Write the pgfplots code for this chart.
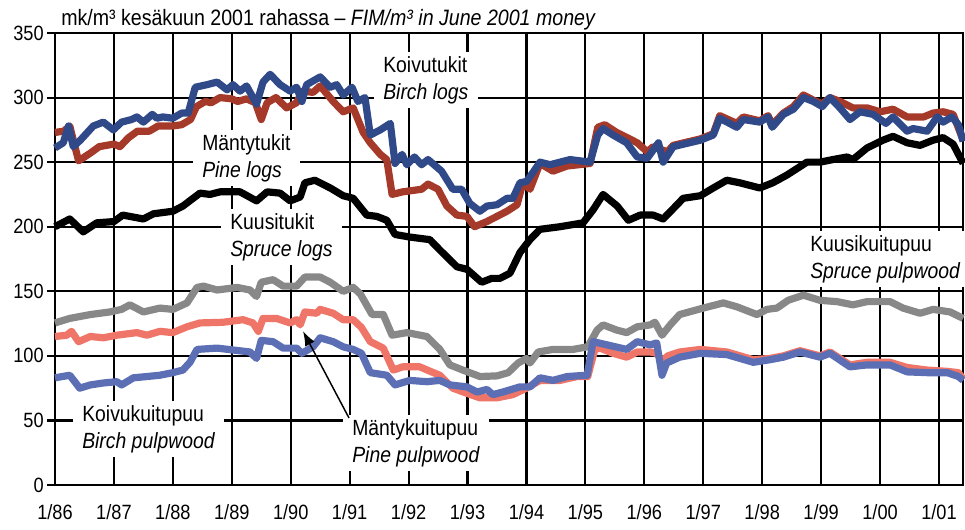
\documentclass[border=0pt]{standalone}
\usepackage{pgfplots}
\pgfplotsset{compat=1.18}
\usepackage{fontspec}
\setmainfont{Liberation Sans}[FakeStretch=0.88]
\usetikzlibrary{arrows.meta}
\definecolor{birchlog}{RGB}{47,73,137}
\definecolor{pinelog}{RGB}{166,58,42}
\definecolor{sprpulp}{RGB}{136,136,136}
\definecolor{pinepulp}{RGB}{238,117,104}
\definecolor{birchpulp}{RGB}{92,110,180}
\tikzset{lbl/.style={fill=white, align=left, inner xsep=7pt, inner ysep=3pt, anchor=west, font=\fontsize{16.5}{20.25}\selectfont}}
\begin{document}
\begin{tikzpicture}
\begin{axis}[
  scale only axis, width=681pt, height=339pt,
  xmin=1986, xmax=2001.408, ymin=0, ymax=350,
  xtick={1986,1987,1988,1989,1990,1991,1992,1993,1994,1995,1996,1997,1998,1999,2000,2001},
  xticklabels={1/86,1/87,1/88,1/89,1/90,1/91,1/92,1/93,1/94,1/95,1/96,1/97,1/98,1/99,1/00,1/01},
  ytick={0,50,100,150,200,250,300,350},
  grid=major, major grid style={black, line width=1.6pt},
  axis line style={black, line width=1.6pt},
  xtick align=inside, ytick align=outside, ytick pos=left, xtick pos=bottom,
  major tick length=6pt, tick style={black, line width=1.6pt},
  ticklabel style={font=\fontsize{15.5}{18}\selectfont},
  xticklabel style={yshift=-13.5pt, inner ysep=1pt},
  yticklabel style={xshift=1pt},
  /pgf/number format/assume math mode=true,
  scaled ticks=false, clip=false,
  every axis plot/.append style={line width=5.4pt, line join=round},
]
% Pine logs
\addplot[pinelog] coordinates {(1986.00,273)(1986.15,274)(1986.25,278)(1986.40,251)(1986.60,257)(1986.75,262)(1987.00,264)(1987.10,262)(1987.25,269)(1987.40,274)(1987.60,274)(1987.75,278)(1988.00,278)(1988.15,279)(1988.30,283)(1988.40,293)(1988.55,297)(1988.65,296)(1988.80,300)(1989.00,299)(1989.10,297)(1989.25,299)(1989.40,296)(1989.50,283)(1989.60,296)(1989.75,300)(1989.93,292)(1990.10,296)(1990.20,305)(1990.38,304)(1990.50,309)(1990.72,297)(1990.89,289)(1991.06,292)(1991.23,273)(1991.35,265)(1991.52,256)(1991.63,252)(1991.72,225)(1991.90,227)(1992.22,229)(1992.33,233)(1992.50,229)(1992.65,216)(1992.82,209)(1992.99,208)(1993.12,200)(1993.33,204)(1993.50,208)(1993.67,212)(1993.84,217)(1993.94,234)(1994.06,229)(1994.23,249)(1994.45,243)(1994.69,247)(1995.08,249)(1995.21,277)(1995.33,279)(1995.53,273)(1995.88,265)(1996.05,258)(1996.15,262)(1996.39,258)(1996.49,263)(1996.95,268)(1997.17,272)(1997.28,286)(1997.57,280)(1997.68,285)(1997.96,282)(1998.10,286)(1998.17,279)(1998.36,288)(1998.53,293)(1998.70,302)(1998.87,298)(1999.02,295)(1999.15,300)(1999.32,297)(1999.54,292)(1999.78,292)(2000.00,289)(2000.22,291)(2000.46,285)(2000.74,285)(2000.90,288)(2001.07,289)(2001.24,287)(2001.41,267)};
% Birch logs
\addplot[birchlog] coordinates {(1986.00,261)(1986.14,265)(1986.23,278)(1986.31,262)(1986.43,267)(1986.57,274)(1986.65,278)(1986.82,281)(1986.99,275)(1987.13,281)(1987.30,283)(1987.39,285)(1987.50,281)(1987.65,287)(1987.73,284)(1987.83,285)(1988.00,284)(1988.15,288)(1988.26,288)(1988.38,308)(1988.58,310)(1988.75,312)(1988.92,306)(1989.02,310)(1989.14,305)(1989.25,309)(1989.42,295)(1989.53,312)(1989.65,318)(1989.82,310)(1989.99,305)(1990.10,308)(1990.19,297)(1990.27,310)(1990.50,316)(1990.67,308)(1990.78,310)(1990.89,302)(1991.04,308)(1991.14,297)(1991.26,300)(1991.35,271)(1991.52,275)(1991.69,280)(1991.77,249)(1991.89,256)(1991.97,248)(1992.10,254)(1992.22,248)(1992.33,252)(1992.56,243)(1992.75,229)(1992.90,229)(1993.04,218)(1993.21,212)(1993.33,216)(1993.50,217)(1993.67,222)(1993.77,222)(1993.89,234)(1994.00,235)(1994.11,242)(1994.23,250)(1994.40,248)(1994.57,250)(1994.74,252)(1995.08,250)(1995.21,271)(1995.30,276)(1995.47,271)(1995.70,265)(1995.88,254)(1996.05,253)(1996.24,265)(1996.32,250)(1996.49,262)(1996.95,267)(1997.17,271)(1997.28,284)(1997.57,277)(1997.68,283)(1997.96,281)(1998.10,285)(1998.17,277)(1998.36,287)(1998.53,291)(1998.70,300)(1998.87,297)(1999.02,293)(1999.15,300)(1999.32,292)(1999.49,283)(1999.66,289)(1999.88,287)(2000.10,280)(2000.22,285)(2000.46,274)(2000.56,276)(2000.80,274)(2000.97,285)(2001.07,281)(2001.22,285)(2001.33,279)(2001.41,266)};
% Spruce logs
\addplot[black] coordinates {(1986.00,200)(1986.25,206)(1986.48,196)(1986.71,203)(1987.00,204)(1987.15,209)(1987.50,206)(1987.67,210)(1988.00,212)(1988.17,216)(1988.46,226)(1988.63,225)(1988.80,227)(1989.14,227)(1989.42,220)(1989.60,227)(1989.82,226)(1989.99,220)(1990.16,223)(1990.24,234)(1990.41,236)(1990.67,230)(1990.89,224)(1991.06,222)(1991.29,209)(1991.46,208)(1991.63,205)(1991.77,194)(1992.02,192)(1992.36,190)(1992.53,182)(1992.82,169)(1992.99,167)(1993.24,157)(1993.41,160)(1993.55,160)(1993.72,164)(1993.89,180)(1994.06,190)(1994.23,198)(1994.57,200)(1994.96,203)(1995.13,213)(1995.30,225)(1995.54,216)(1995.73,205)(1995.93,209)(1996.15,209)(1996.32,206)(1996.47,213)(1996.66,222)(1996.95,224)(1997.17,230)(1997.40,236)(1997.62,234)(1997.96,230)(1998.18,234)(1998.42,240)(1998.76,250)(1998.98,250)(1999.20,252)(1999.44,254)(1999.54,252)(1999.78,261)(2000.05,267)(2000.22,270)(2000.46,265)(2000.68,263)(2000.90,267)(2001.07,269)(2001.24,264)(2001.41,249)};
% Spruce pulpwood
\addplot[sprpulp] coordinates {(1986.00,125.5)(1986.25,129)(1986.60,132)(1986.93,134)(1987.13,136)(1987.27,139.5)(1987.50,134)(1987.78,137)(1988.00,136)(1988.24,141)(1988.41,153)(1988.52,154)(1988.75,151)(1989.09,153)(1989.31,151)(1989.42,146)(1989.50,157)(1989.70,159)(1989.87,154)(1990.10,154)(1990.24,161)(1990.50,161)(1990.67,157)(1990.89,150)(1991.06,153)(1991.18,148)(1991.38,132)(1991.57,132)(1991.72,116)(1991.97,118)(1992.31,115)(1992.53,105)(1992.70,93)(1992.92,89)(1993.21,84)(1993.50,84.5)(1993.69,87)(1993.86,94.5)(1994.00,98)(1994.06,94.5)(1994.20,103)(1994.45,105)(1994.79,105)(1995.04,107)(1995.20,120)(1995.30,124)(1995.53,120)(1995.70,118)(1995.88,122.5)(1996.10,124)(1996.18,126)(1996.30,116)(1996.44,124)(1996.60,132)(1997.00,137)(1997.34,141)(1997.57,138)(1997.91,132)(1998.08,136)(1998.25,137)(1998.44,143)(1998.70,147)(1998.98,143)(1999.27,142)(1999.54,139.5)(1999.78,142)(2000.17,142)(2000.39,137)(2000.68,133)(2000.90,136)(2001.19,134)(2001.41,129)};
% Pine pulpwood
\addplot[pinepulp] coordinates {(1986.00,115)(1986.20,116)(1986.28,119)(1986.40,111)(1986.60,115)(1986.82,114)(1987.05,116)(1987.39,118)(1987.56,116)(1987.78,119)(1988.00,118)(1988.24,122.5)(1988.46,125.5)(1988.85,126)(1989.19,128)(1989.36,125.5)(1989.45,119)(1989.53,129)(1989.76,129)(1989.99,125.5)(1990.10,128)(1990.16,124)(1990.24,134)(1990.44,133)(1990.50,136)(1990.72,133)(1990.89,128)(1991.06,128)(1991.20,122)(1991.35,111)(1991.57,106)(1991.74,89)(1991.90,91.5)(1992.19,91.5)(1992.39,87.6)(1992.53,85)(1992.75,75)(1992.99,71)(1993.21,67.5)(1993.50,67.5)(1993.77,70)(1994.00,75)(1994.23,81)(1994.57,81)(1994.86,84)(1995.04,84)(1995.16,105)(1995.25,106)(1995.47,102)(1995.70,99)(1995.88,103)(1996.10,103)(1996.21,102)(1996.30,96)(1996.40,100)(1996.60,103)(1996.95,105)(1997.40,103)(1997.85,97)(1998.13,98)(1998.36,100)(1998.64,104)(1998.98,100)(1999.15,103)(1999.49,93)(1999.78,95)(2000.17,95)(2000.46,91)(2000.80,89)(2001.14,88)(2001.33,87)(2001.41,82)};
% Birch pulpwood
\addplot[birchpulp] coordinates {(1986.00,83)(1986.25,85)(1986.42,75)(1986.60,77.5)(1986.82,79)(1987.05,80)(1987.13,77.5)(1987.33,83)(1987.56,84)(1987.78,85)(1988.00,87)(1988.17,89)(1988.29,95)(1988.41,105)(1988.75,106)(1989.31,103)(1989.42,98)(1989.50,112)(1989.70,111)(1989.87,106)(1990.10,106)(1990.19,102)(1990.38,107)(1990.50,114)(1990.72,111)(1990.89,107)(1991.06,105)(1991.20,102)(1991.35,87)(1991.63,85)(1991.77,77.5)(1992.02,81)(1992.31,80)(1992.53,81)(1992.70,77.5)(1992.99,76)(1993.16,72)(1993.33,74)(1993.43,70)(1993.60,72)(1993.89,76)(1994.06,76)(1994.23,83)(1994.45,81)(1994.69,84)(1995.03,85)(1995.13,111)(1995.37,108.5)(1995.70,105)(1995.88,111)(1996.10,108.5)(1996.21,110)(1996.30,85)(1996.38,94.5)(1996.60,99)(1996.95,102)(1997.40,101)(1997.85,95)(1998.13,97)(1998.36,99)(1998.64,103)(1998.98,99)(1999.15,102)(1999.49,91.5)(1999.78,93)(2000.17,93)(2000.46,87.6)(2000.80,87)(2001.14,87)(2001.33,84)(2001.41,81)};
% labels
\node[lbl] at (axis cs:1991.408,313.6) {Koivutukit\\\textit{Birch logs}};
\node[lbl] at (axis cs:1988.336,253.2) {Mäntytukit\\\textit{Pine logs}};
\node[lbl] at (axis cs:1988.812,192.0) {Kuusitukit\\\textit{Spruce logs}};
\node[lbl] at (axis cs:1998.653,175.0) {Kuusikuitupuu\\\textit{Spruce pulpwood}};
\node[lbl] at (axis cs:1986.300,43.4) {Koivukuitupuu\\\textit{Birch pulpwood}};
\node[lbl] at (axis cs:1990.882,32.5) {Mäntykuitupuu\\\textit{Pine pulpwood}};
\draw[black, line width=1.1pt, -{Latex[length=11pt,width=8pt]}] (axis cs:1990.989,51.9) -- (axis cs:1990.208,119.2);
\node[anchor=base west, inner sep=0pt, font=\fontsize{16.7}{20}\selectfont] at ([xshift=4.5pt,yshift=6pt]rel axis cs:0,1) {mk/m³ kesäkuun 2001 rahassa – \textit{FIM/m³ in June 2001 money}};
\coordinate (BL) at (rel axis cs:0,0);
\coordinate (TR) at (rel axis cs:1,1);
\end{axis}
\pgfresetboundingbox
\path[use as bounding box] ([xshift=-41.25pt,yshift=-33pt]BL) rectangle ([xshift=1.5pt,yshift=24.75pt]TR);
\end{tikzpicture}
\end{document}
